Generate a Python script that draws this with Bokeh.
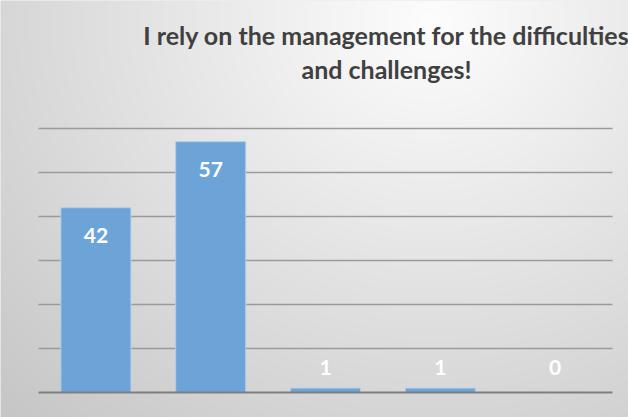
import numpy as np
from bokeh.plotting import figure
from bokeh.models import Range1d, Label, ColumnDataSource
from bokeh.embed import file_html
from bokeh.resources import INLINE
from bokeh.core.properties import value

# ---- data ----
categories = ["Strongly agree", "Agree", "Neutral", "Disagree", "Strongly disagree"]
counts = [42, 57, 1, 1, 0]
grid_ticks = [0, 10, 20, 30, 40, 50, 60]
title_lines = ["I rely on the management for the difficulties", "and challenges!"]

# ---- layout constants (pixels) ----
W, H = 628, 417
px_per_cat = 114.8
px_per_unit = 4.4
first_center_px = 95.4
baseline_from_bottom = 25

x_start = -first_center_px / px_per_cat
y_start = -baseline_from_bottom / px_per_unit
x_range = Range1d(x_start, x_start + W / px_per_cat)
y_range = Range1d(y_start, y_start + H / px_per_unit)

p = figure(width=W, height=H, x_range=x_range, y_range=y_range,
           output_backend="svg", toolbar_location=None, tools="",
           min_border=0, x_axis_location=None, y_axis_location=None)
p.grid.visible = False
p.outline_line_color = None
p.background_fill_color = "#e0e0e0"
p.border_fill_color = "#e0e0e0"

# ---- background gradient (style only) ----
yy, xx = np.mgrid[0:H, 0:W]
cx, cy, rx, ry = 430.0, 20.0, 470.0, 420.0
t = np.sqrt(((xx - cx) / rx) ** 2 + ((yy - cy) / ry) ** 2)
g = np.clip(253 - 42 * t, 198, 253).astype(np.uint8)
img = np.empty((H, W), dtype=np.uint32)
view = img.view(dtype=np.uint8).reshape((H, W, 4))
view[:, :, 0] = g
view[:, :, 1] = g
view[:, :, 2] = g
view[:, :, 3] = 255
img = np.flipud(img)
p.image_rgba(image=[img], x=x_range.start, y=y_range.start,
             dw=x_range.end - x_range.start, dh=y_range.end - y_range.start,
             level="image")

# ---- gridlines ----
n = len(categories)
p.segment(x0=[-0.5] * (len(grid_ticks) - 1), x1=[n - 0.5] * (len(grid_ticks) - 1),
          y0=grid_ticks[1:], y1=grid_ticks[1:], line_color="#9a9a9a", line_width=1.5)

# ---- bars ----
idx = list(range(n))
src = ColumnDataSource(dict(x=idx, top=counts))
p.vbar(x="x", top="top", width=0.61, source=src,
       fill_color="#6CA4D8", line_color="#B2CDEA", line_width=1)

# baseline
p.segment(x0=[-0.5], x1=[n - 0.5], y0=[grid_ticks[0]], y1=[grid_ticks[0]],
          line_color="#7e7e7e", line_width=2)

# ---- data labels ----
inside = [v * px_per_unit > 40 for v in counts]
lab_y = [v if ins else 0 for v, ins in zip(counts, inside)]
lab_off = [28 if ins else -25 for ins in inside]
lsrc = ColumnDataSource(dict(x=idx, y=lab_y, off=lab_off, text=[str(v) for v in counts]))
p.text(x="x", y="y", text="text", y_offset="off", source=lsrc,
       text_align="center", text_baseline="middle", text_color="white",
       text_font=value("Lato"), text_font_style="bold", text_font_size="21px")

# ---- title ----
title_cx = 386
for i, line in enumerate(title_lines):
    p.add_layout(Label(x=title_cx, y=H - 34 - 34 * i, x_units="screen", y_units="screen",
                       text=line, text_align="center", text_baseline="alphabetic",
                       text_font="Lato", text_font_style="bold", text_font_size="25px",
                       text_color="#404040"))

open("out.html", "w").write(file_html(p, INLINE))
